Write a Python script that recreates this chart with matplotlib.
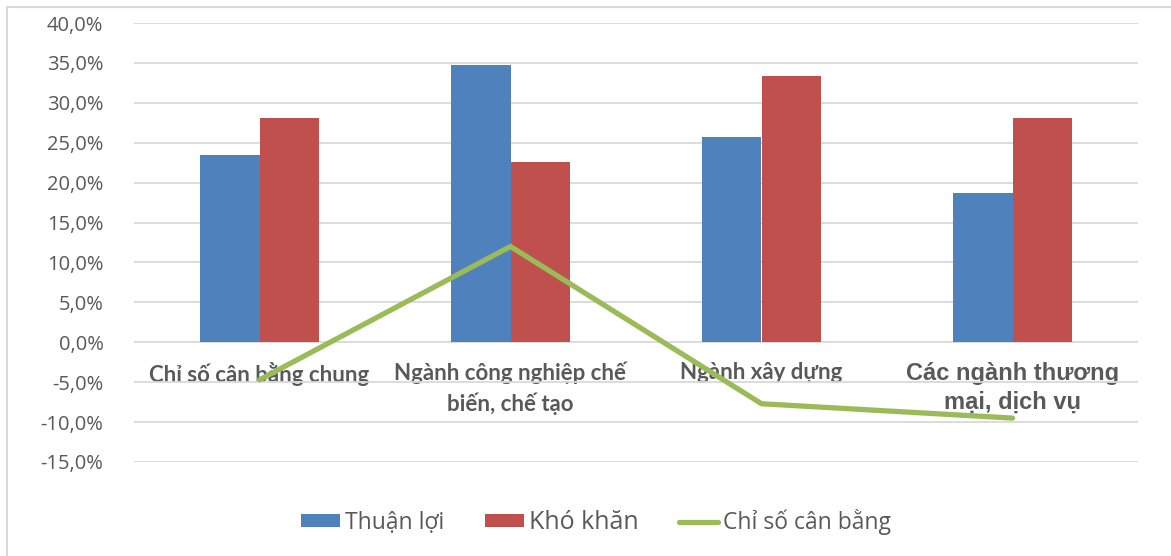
import matplotlib
matplotlib.use("Agg")
import matplotlib.pyplot as plt
from matplotlib.ticker import FuncFormatter, MultipleLocator
from matplotlib.patches import Rectangle
import numpy as np

categories = ["Chỉ số cân bằng chung", "Ngành công nghiệp chế\nbiến, chế tạo",
              "Ngành xây dựng", "Các ngành thương\nmại, dịch vụ"]
thuan_loi = [23.5, 34.7, 25.7, 18.7]
kho_khan = [28.1, 22.6, 33.4, 28.1]
can_bang = [-4.7, 12.0, -7.7, -9.5]
series_names = ["Thuận lợi", "Khó khăn", "Chỉ số cân bằng"]

BLUE = "#4F81BD"
RED = "#C0504D"
GREEN = "#9BBB59"
TXT = "#595959"
GRID = "#D9D9D9"

W, H = 1171, 556
fig = plt.figure(figsize=(W / 100, H / 100), dpi=100)
fig.patch.set_facecolor("white")

# outer chart border
fig.patches.append(Rectangle((7 / W, -0.05), 1.2, 1 - 7 / H + 0.05, transform=fig.transFigure,
                             fill=False, edgecolor=GRID, linewidth=1.5))

ax = fig.add_axes([134 / W, 1 - 462 / H, (1138 - 134) / W, (462 - 23) / H])
ax.set_axisbelow(True)

x = np.arange(len(categories))
bw = 0.239
b1 = ax.bar(x - bw / 2, thuan_loi, bw, color=BLUE, edgecolor="none", zorder=1, label=series_names[0])
b2 = ax.bar(x + bw / 2, kho_khan, bw, color=RED, edgecolor="none", zorder=1, label=series_names[1])
ln, = ax.plot(x, can_bang, color=GREEN, lw=3.8, solid_capstyle="round", solid_joinstyle="miter",
              zorder=3, label=series_names[2])

ax.set_xlim(-0.5, 3.5)
ax.set_ylim(-15, 40)
ax.yaxis.set_major_locator(MultipleLocator(5))
ax.yaxis.set_major_formatter(FuncFormatter(lambda v, p: f"{v:.1f}%".replace(".", ",")))
ax.grid(axis="y", color=GRID, linewidth=1.3)
ax.grid(axis="x", visible=False)
for s in ["top", "right", "left"]:
    ax.spines[s].set_visible(False)
ax.spines["bottom"].set_position(("data", 0))
ax.spines["bottom"].set_visible(False)

ax.tick_params(axis="y", length=0, pad=22, labelsize=14.5, labelcolor=TXT)
for t in ax.get_yticklabels():
    t.set_family("Open Sans")

ax.set_xticks(x)
ax.set_xticklabels(categories)
ax.tick_params(axis="x", length=0, pad=14, labelcolor=TXT)
for i, t in enumerate(ax.get_xticklabels()):
    if i < 3:
        t.set_fontfamily("Lato")
        t.set_fontweight("bold")
        t.set_fontsize(16)
        t.set_linespacing(1.45)
    else:
        t.set_fontfamily("Liberation Sans")
        t.set_fontweight("bold")
        t.set_fontsize(17)
        t.set_linespacing(1.35)
    t.set_verticalalignment("top")

leg = fig.legend(handles=[b1, b2, ln], labels=series_names, loc="center",
                 bbox_to_anchor=(596 / W, 1 - 522 / H), ncol=3, frameon=False,
                 prop={"family": "Open Sans", "size": 16.5},
                 handlelength=1.7, handleheight=0.5, handletextpad=0.2, columnspacing=1.8)
for i, t in enumerate(leg.get_texts()):
    t.set_color(TXT)
    if i == 1:
        t.set_fontsize(18)

fig.savefig("out.png", dpi=100, facecolor="white")
